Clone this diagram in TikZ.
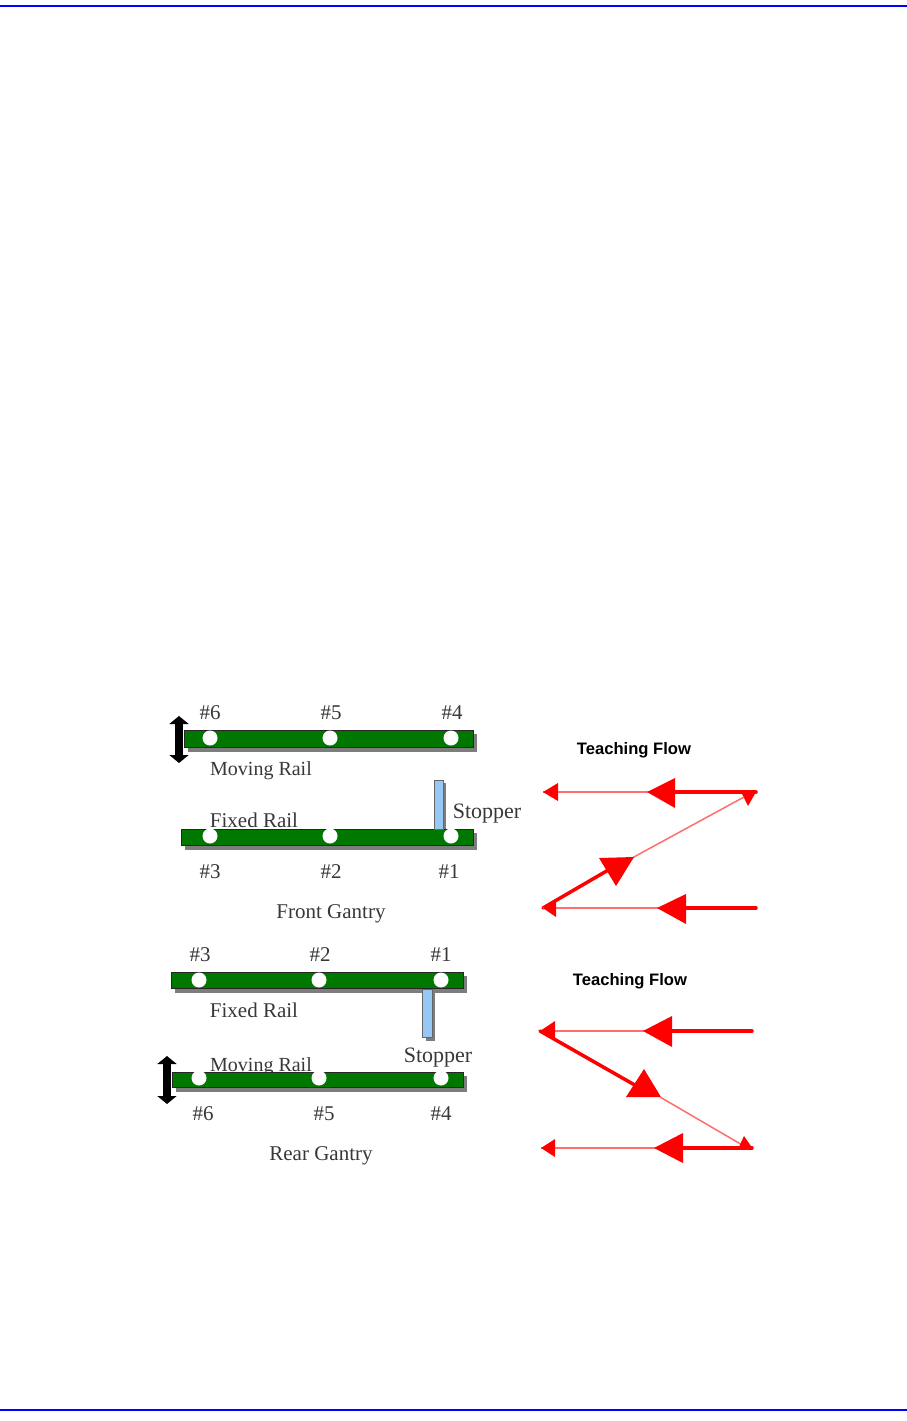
\documentclass[tikz,border=0pt]{standalone}
\usepackage{fontspec}
\setmainfont{Liberation Serif}
\newfontfamily\boldsans{Liberation Sans}
\usetikzlibrary{arrows.meta}
\definecolor{railgreen}{RGB}{0,120,0}
\definecolor{stopblue}{RGB}{150,200,245}
\definecolor{flowred}{RGB}{255,0,0}
\definecolor{thinred}{RGB}{255,110,110}
\definecolor{rule}{RGB}{0,0,255}
\definecolor{shade}{RGB}{125,125,125}
\tikzset{
  x=1pt,y=-1pt,
  lbl/.style={inner sep=0pt,font=\fontsize{21}{21}\selectfont,text=black!78},
  lblm/.style={inner sep=0pt,font=\fontsize{20}{20}\selectfont,text=black!78},
  lbls/.style={inner sep=0pt,font=\fontsize{22}{22}\selectfont,text=black!78},
  title/.style={inner sep=0pt,font=\boldsans\bfseries\fontsize{16.6}{18}\selectfont,text=black},
  rail/.style={fill=railgreen,draw=black!85,line width=1pt},
  railshadow/.style={fill=shade,draw=none},
  pin/.style={circle,fill=white,draw=none,minimum size=15pt,inner sep=0pt},
  stopper/.style={fill=stopblue,draw=black!60,line width=1pt},
  thinflow/.style={draw=thinred,line width=1.5pt},
  thickflow/.style={draw=flowred,line width=3.5pt,line cap=round},
  headfill/.style={fill=flowred,draw=none},
  updown/.style={draw=black,line width=8.5pt,{Triangle[width=19pt,length=8pt]}-{Triangle[width=19pt,length=8pt]}},
  rulebar/.style={draw=rule,line width=2pt}
}
\begin{document}
\begin{tikzpicture}
\useasboundingbox (0,0) rectangle (907,1421);
\fill[white] (0,0) rectangle (907,1421);
\coordinate (tl) at (0,6); \coordinate (tr) at (907,6);
\coordinate (bl) at (0,1410); \coordinate (br) at (907,1410);
\draw[rulebar] (tl) -- (tr);
\draw[rulebar] (bl) -- (br);

% Front gantry
\fill[railshadow] (188,734) rectangle (477,752);
\draw[rail] (184,730) rectangle (473,747);
\node[lbl] (fra) at (254,820) {Fixed Rail};
\fill[railshadow] (185,833) rectangle (477,850);
\draw[rail] (181,829) rectangle (473,845);
\fill[railshadow] (438,783) rectangle (446,829);
\draw[stopper] (434,780) rectangle (443,829);
\node[pin] (p6a) at (210,738) {};
\node[pin] (p5a) at (330,738) {};
\node[pin] (p4a) at (451,738) {};
\node[pin] (p3a) at (210,836) {};
\node[pin] (p2a) at (330,836) {};
\node[pin] (p1a) at (451,836) {};
\coordinate (ua) at (179,716); \coordinate (da) at (179,763);
\draw[updown] (ua) -- (da);
\node[lbl] (l6a) at (210,713) {\#6};
\node[lbl] (l5a) at (331,713) {\#5};
\node[lbl] (l4a) at (452,713) {\#4};
\node[lbl] (l3a) at (210,872) {\#3};
\node[lbl] (l2a) at (331,872) {\#2};
\node[lbl] (l1a) at (449,872) {\#1};
\node[lblm] (mra) at (261,771) {Moving Rail};
\node[lbls] (sta) at (487,814) {Stopper};
\node[lbl] (fg) at (331,914) {Front Gantry};

% Rear gantry
\fill[railshadow] (175,976) rectangle (467,993);
\draw[rail] (171,972) rectangle (463,988);
\fill[railshadow] (426,992) rectangle (435,1041);
\draw[stopper] (422,989) rectangle (432,1037);
\node[lblm] (mrb) at (261,1067) {Moving Rail};
\fill[railshadow] (176,1076) rectangle (467,1092);
\draw[rail] (172,1072) rectangle (463,1087);
\node[pin] (p3b) at (199,980) {};
\node[pin] (p2b) at (319,980) {};
\node[pin] (p1b) at (441,980) {};
\node[pin] (p6b) at (199,1078) {};
\node[pin] (p5b) at (319,1078) {};
\node[pin] (p4b) at (441,1078) {};
\coordinate (ub) at (167,1056); \coordinate (db) at (167,1104);
\draw[updown] (ub) -- (db);
\node[lbl] (l3b) at (200,955) {\#3};
\node[lbl] (l2b) at (320,955) {\#2};
\node[lbl] (l1b) at (441,955) {\#1};
\node[lbl] (l6b) at (203,1114) {\#6};
\node[lbl] (l5b) at (324,1114) {\#5};
\node[lbl] (l4b) at (441,1114) {\#4};
\node[lbl] (frb) at (254,1010) {Fixed Rail};
\node[lbls] (stb) at (438,1058) {Stopper};
\node[lbl] (rg) at (321,1156) {Rear Gantry};

% Teaching flow, front
\node[title] (tfa) at (634,750) {Teaching Flow};
\coordinate (a1) at (756,792); \coordinate (a2) at (543,792);
\coordinate (a4) at (543,908); \coordinate (a5) at (756,908);
\coordinate (am1) at (672,792); \coordinate (am3) at (684,908);
\coordinate (adiag1) at (744,797); \coordinate (adiag2) at (632,858);
\coordinate (adiag3) at (610,869);
\draw[thinflow] (a1) -- (a2);
\draw[thickflow] (a1) -- (am1);
\fill[headfill] (a2) -- (558,783) -- (558,801) -- cycle;
\fill[headfill] (647,792) -- (675,778) -- (675,808) -- cycle;
\fill[headfill] (756,792) -- (748,806) -- (741,792) -- cycle;
\draw[thinflow] (adiag1) -- (adiag2);
\draw[thickflow] (a4) -- (adiag3);
\fill[headfill] (634,857) -- (599,858) -- (616,886) -- cycle;
\draw[thinflow] (a4) -- (am3);
\draw[thickflow] (a5) -- (am3);
\fill[headfill] (a4) -- (556,899) -- (556,917) -- cycle;
\fill[headfill] (657,908) -- (686,894) -- (686,924) -- cycle;

% Teaching flow, rear
\node[title] (tfb) at (630,981) {Teaching Flow};
\coordinate (b1) at (752,1031); \coordinate (b2) at (540,1031);
\coordinate (b4) at (752,1148); \coordinate (b5) at (541,1148);
\coordinate (bdiag1) at (640,1088); \coordinate (bdiag2) at (660,1097);
\coordinate (bdiag3) at (744,1146);
\coordinate (bm1) at (670,1031); \coordinate (bm4) at (680,1148);
\draw[thinflow] (b1) -- (b2);
\draw[thickflow] (b1) -- (bm1);
\fill[headfill] (b2) -- (555,1021) -- (555,1040) -- cycle;
\fill[headfill] (643,1031) -- (672,1016) -- (672,1047) -- cycle;
\draw[thickflow] (b2) -- (bdiag1);
\fill[headfill] (644,1069) -- (626,1097) -- (661,1097) -- cycle;
\draw[thinflow] (bdiag2) -- (bdiag3);
\fill[headfill] (744,1136) -- (753,1149) -- (738,1149) -- cycle;
\draw[thinflow] (b4) -- (b5);
\draw[thickflow] (b4) -- (bm4);
\fill[headfill] (b5) -- (555,1139) -- (555,1157) -- cycle;
\fill[headfill] (654,1148) -- (683,1133) -- (683,1163) -- cycle;
\end{tikzpicture}
\end{document}
